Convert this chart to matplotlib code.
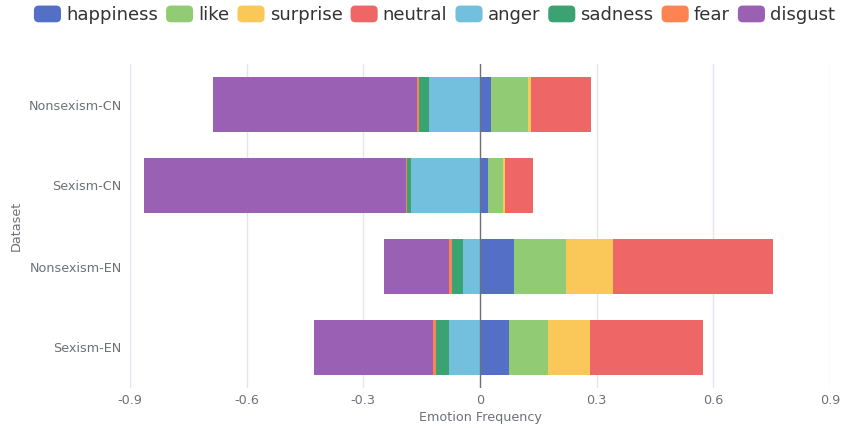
import numpy as np
import matplotlib
matplotlib.use("Agg")
import matplotlib.pyplot as plt
from matplotlib.patches import Patch, FancyBboxPatch
from matplotlib.legend_handler import HandlerPatch

datasets = ["Sexism-EN", "Nonsexism-EN", "Sexism-CN", "Nonsexism-CN"]

# positive emotions (drawn to the right of zero)
happiness = [0.074, 0.087, 0.020, 0.028]
like = [0.100, 0.134, 0.039, 0.095]
surprise = [0.108, 0.121, 0.005, 0.008]
neutral = [0.291, 0.412, 0.072, 0.155]

# negative emotions (drawn to the left of zero)
anger = [0.081, 0.045, 0.178, 0.132]
sadness = [0.031, 0.028, 0.010, 0.026]
fear = [0.008, 0.008, 0.003, 0.005]
disgust = [0.306, 0.167, 0.672, 0.523]

colors = {
    "happiness": "#5470c6", "like": "#91cc75", "surprise": "#fac858", "neutral": "#ee6666",
    "anger": "#73c0de", "sadness": "#3ba272", "fear": "#fc8452", "disgust": "#9a60b4",
}


class RoundHandler(HandlerPatch):
    def create_artists(self, legend, orig_handle, xdescent, ydescent, width, height, fontsize, trans):
        p = FancyBboxPatch((-xdescent, -ydescent), width, height,
                           boxstyle="round,pad=0,rounding_size=3.5",
                           fc=orig_handle.get_facecolor(), ec="none", transform=trans)
        return [p]


fig = plt.figure(figsize=(8.42, 4.28), dpi=100)
ax = fig.add_axes([130 / 842, 40 / 428, 700 / 842, 324 / 428])

y = np.arange(len(datasets))
h = 0.69

left = np.zeros(len(datasets))
for name, vals in [("happiness", happiness), ("like", like), ("surprise", surprise), ("neutral", neutral)]:
    v = np.array(vals)
    ax.barh(y, v, left=left, height=h, color=colors[name], zorder=3)
    left += v

left = np.zeros(len(datasets))
for name, vals in [("anger", anger), ("sadness", sadness), ("fear", fear), ("disgust", disgust)]:
    v = np.array(vals)
    ax.barh(y, -v, left=left, height=h, color=colors[name], zorder=3)
    left -= v

ax.set_xlim(-0.9, 0.9)
ax.set_ylim(-0.5, len(datasets) - 0.5)
ticks = [-0.9, -0.6, -0.3, 0, 0.3, 0.6, 0.9]
ax.set_xticks(ticks)
ax.set_xticklabels(["-0.9", "-0.6", "-0.3", "0", "0.3", "0.6", "0.9"])
ax.set_yticks(y)
ax.set_yticklabels(datasets)
ax.tick_params(axis="both", length=0, colors="#6e7079", labelsize=9.2)
ax.tick_params(axis="x", pad=4)
ax.tick_params(axis="y", pad=6)

for t in ticks:
    if t != 0:
        ax.axvline(t, color="#e0e6f1", lw=1, zorder=1)
ax.axvline(0, color="#6e7079", lw=1, zorder=4)

for s in ax.spines.values():
    s.set_visible(False)

ax.set_xlabel("Emotion Frequency", color="#6e7079", fontsize=9.2, labelpad=3)
ax.set_ylabel("Dataset", color="#6e7079", fontsize=9.2, labelpad=4)

order = ["happiness", "like", "surprise", "neutral", "anger", "sadness", "fear", "disgust"]
handles = [Patch(facecolor=colors[n], label=n) for n in order]
fig.legend(handles=handles, loc="upper center", bbox_to_anchor=(0.516, 1.025), ncol=8,
           frameon=False, fontsize=13, handlelength=1.5, handleheight=1.05,
           handletextpad=0.28, columnspacing=0.45, labelcolor="#333333",
           handler_map={Patch: RoundHandler()})

fig.savefig("out.png", dpi=100)
